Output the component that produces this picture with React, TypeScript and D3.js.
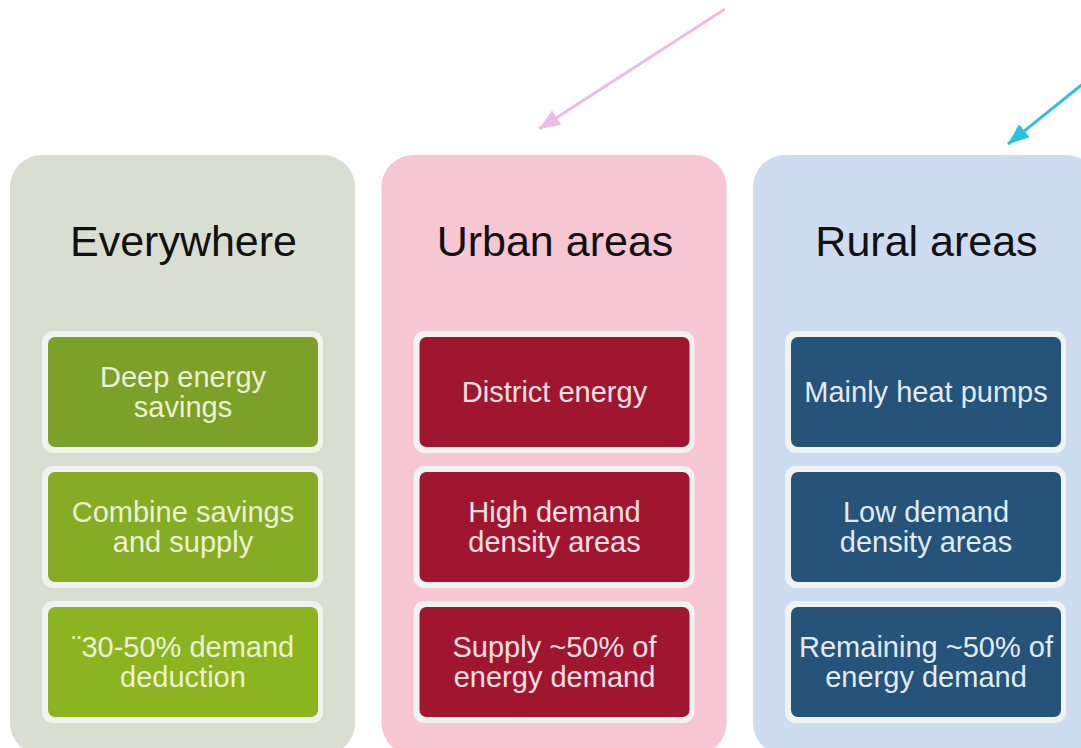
import React from "react";
import * as d3 from "d3";

const titles = ["Everywhere", "Urban areas", "Rural areas"];
const items: string[][][] = [
  [["Deep energy", "savings"], ["Combine savings", "and supply"], ["¨30-50% demand", "deduction"]],
  [["District energy"], ["High demand", "density areas"], ["Supply ~50% of", "energy demand"]],
  [["Mainly heat pumps"], ["Low demand", "density areas"], ["Remaining ~50% of", "energy demand"]],
];
const panelColors = ["#d9dfd0", "#f6c6d2", "#cddcf1"];
const boxColors = [
  ["#7da029", "#86ab24", "#8cb420"],
  ["#a1162f", "#a1162f", "#a1162f"],
  ["#25537a", "#25537a", "#25537a"],
];
const textColors = ["#eaf3d4", "#f7e1e7", "#e2ecf6"];
const arrows = [
  { from: [725, 9], to: [539, 129], color: "#ecbde1" },
  { from: [1084, 83], to: [1008, 144], color: "#27c2df" },
];

const W = 1081;
const H = 748;

export default function App() {
  const col = d3.scaleLinear().domain([0, 1]).range([10, 381.5]);
  const row = d3.scaleLinear().domain([0, 1]).range([337, 472]);
  const panelW = 345;
  const panelTop = 155;
  const font = "'Liberation Sans', Arial, sans-serif";

  return (
    <svg width={W} height={H} style={{ position: "absolute", left: 0, top: 0, background: "#fff" }}>
      <defs>
        {arrows.map((a, i) => (
          <marker
            key={i}
            id={`ah${i}`}
            viewBox="0 0 10 8"
            refX={10}
            refY={4}
            markerWidth={7}
            markerHeight={5.6}
            markerUnits="strokeWidth"
            orient="auto"
          >
            <path d="M0,0 L10,4 L0,8 z" fill={a.color} />
          </marker>
        ))}
      </defs>
      {titles.map((t, ci) => {
        const px = col(ci);
        const cx = px + panelW / 2 + 1;
        return (
          <g key={t}>
            <rect x={px} y={panelTop} width={panelW} height={600} rx={32} ry={32} fill={panelColors[ci]} />
            <text x={cx} y={256} textAnchor="middle" fontFamily={font} fontSize={43} fill="#111">
              {t}
            </text>
            {items[ci].map((lines, ri) => {
              const y = row(ri);
              const bx = px + 38;
              const cy = y + 55;
              return (
                <g key={ri}>
                  <rect x={px + 32} y={y - 6} width={281} height={122} rx={11} fill="#f1f3f0" />
                  <rect x={bx} y={y} width={270} height={110} rx={7} fill={boxColors[ci][ri]} />
                  {lines.map((ln, li) => (
                    <text
                      key={li}
                      x={bx + 135}
                      y={cy + 10 + (li - (lines.length - 1) / 2) * 30}
                      textAnchor="middle"
                      fontFamily={font}
                      fontSize={29}
                      fill={textColors[ci]}
                    >
                      {ln}
                    </text>
                  ))}
                </g>
              );
            })}
          </g>
        );
      })}
      {arrows.map((a, i) => (
        <line
          key={i}
          x1={a.from[0]}
          y1={a.from[1]}
          x2={a.to[0]}
          y2={a.to[1]}
          stroke={a.color}
          strokeWidth={3}
          markerEnd={`url(#ah${i})`}
        />
      ))}
    </svg>
  );
}
